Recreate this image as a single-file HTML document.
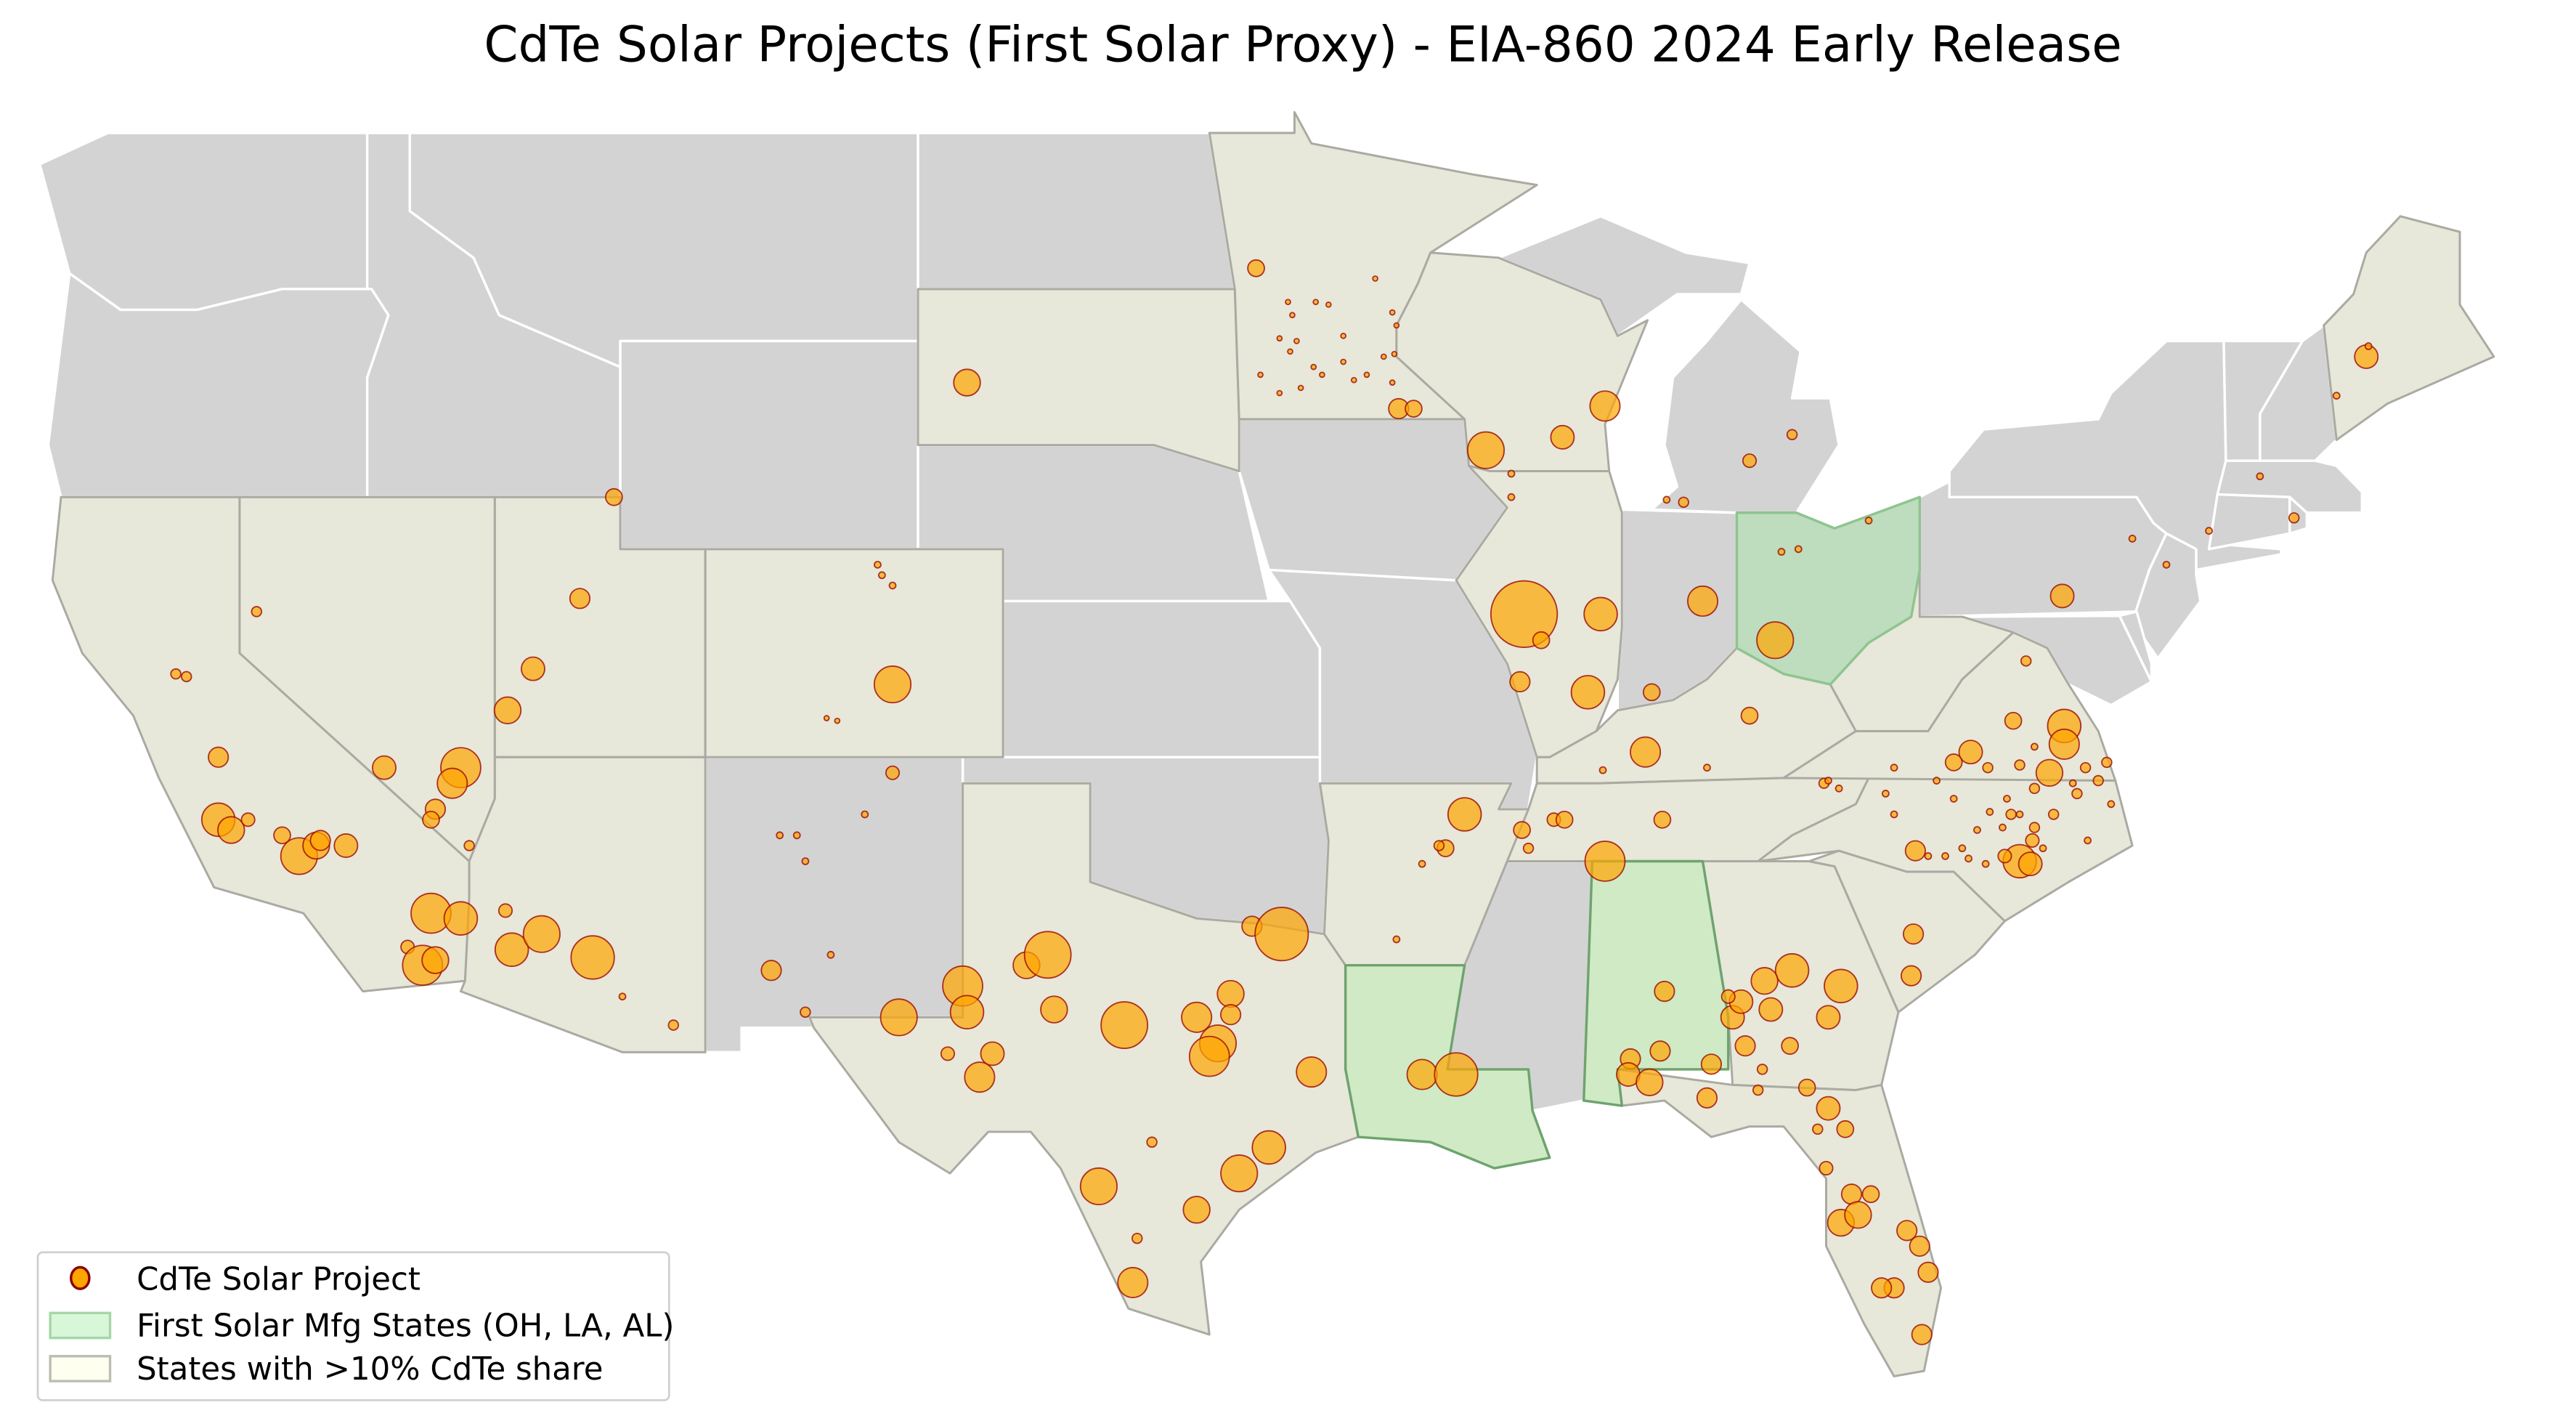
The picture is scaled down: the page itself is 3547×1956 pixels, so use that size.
<!DOCTYPE html>
<html><head><meta charset="utf-8">
<style>
html,body{margin:0;padding:0;background:#fff;}
svg{display:block;font-family:"DejaVu Sans","Liberation Sans",sans-serif;}
</style></head>
<body>
<svg id="chart" width="3547" height="1956" viewBox="0 0 1550 855" xmlns="http://www.w3.org/2000/svg">
<rect x="0" y="0" width="1550" height="855" fill="#ffffff"/>
<text x="784" y="37" text-anchor="middle" font-size="29.5" fill="#000">CdTe Solar Projects (First Solar Proxy) - EIA-860 2024 Early Release</text>
<g id="states"></g>
<g id="points"></g>
<g>
<rect x="22.5" y="753.5" width="380" height="89" rx="3" fill="#fff" stroke="#d0d0d0" stroke-width="1.2"/>
<g>
<ellipse cx="48" cy="769" rx="5.5" ry="6.5" fill="#ffa500" stroke="#8b0000" stroke-width="1.5"/>
<text x="82" y="776" font-size="19" fill="#000">CdTe Solar Project</text></g>
<g>
<rect x="30" y="790" width="36" height="15" fill="#d8f6d8" stroke="#a6d6a6" stroke-width="1.5"/>
<text x="82" y="804" font-size="19" fill="#000">First Solar Mfg States (OH, LA, AL)</text></g>
<g>
<rect x="30" y="816" width="36" height="15" fill="#fffff0" stroke="#bdbdb5" stroke-width="1.5"/>
<text x="82" y="830" font-size="19" fill="#000">States with &gt;10% CdTe share</text></g>
</g>
</svg>
<script>
// ---- data ----
const grayStates = ["WA","OR","ID","MT","WY","ND","NE","KS","OK","NM","IA","MO","MS","IN","MI","MIU","PA","NY","NJ","MD","DE","VT","NH","MA","CT","RI"];
const beigeStates = ["CA","NV","UT","AZ","CO","TX","SD","MN","WI","IL","KY","TN","GA","FL","SC","NC","VA","WV","AR","ME"];
const mfgStates = ["LA","AL","OH"];
const projLon = [-96.1,-102.9,-111.2,-112.0,-113.1,-113.7,-116.6,-114.8,-115.0,-115.4,-115.5,-120.5,-120.5,-120.2,-119.8,-119.0,-118.6,-118.2,-117.5,-118.1,-115.5,-114.8,-113.75,-113.6,-112.9,-111.7,-116.05,-115.7,-115.4,-114.6,-119.6,-121.5,-121.25,-104.65,-104.65,-107.5,-106.7,-109.8,-111.0,
-107.3,-106.9,-106.7,-106.1,-105.3,-105.0,-104.9,-104.65,-106.2,-105.95,
-104.5,-103.0,-102.9,-103.35,-102.6,-102.3,-101.5,-101.0,-100.85,-99.2,-97.5,-97.0,-97.2,-96.7,-96.7,-96.2,-95.5,-94.8,-95.8,-96.5,-99.8,-97.5,-99.0,-98.55,-98.9,
-91.2,-91.65,-92.2,-91.4,-91.8,-92.2,-92.8,
-95.35,-95.25,-94.7,-94.4,-95.55,-95.15,-95.3,-94.05,-93.5,-93.1,-92.85,-93.3,-92.9,-92.8,-94.55,-93.8,-94.05,-94.75,-96.0,-95.55,-95.05,-92.9,
-92.75,-92.4,-90.7,-88.9,-87.9,-90.1,-90.1,-89.8,-89.4,-88.0,-89.9,-88.3,-86.8,-84.5,-86.95,-85.6,-83.9,-84.5,-83.5,-86.05,-86.45,-83.75,-83.35,-81.7,
-89.85,-89.1,-88.85,-87.9,-86.55,-89.7,-87.95,-85.5,-82.75,
-86.5,-86.6,-87.3,-87.35,-86.85,-85.5,-85.4,-84.9,-84.7,-84.6,-84.2,-84.3,-84.0,-83.5,-84.15,-83.55,-83.15,-82.65,-82.35,-82.65,-82.25,-82.9,-82.7,-85.0,
-82.1,-81.65,-82.35,-81.95,-80.8,-80.5,-80.3,-81.1,-81.4,-80.45,
-80.65,-80.7,-80.6,
-79.3,-79.7,-78.3,-78.0,-77.15,-77.1,-77.1,-77.45,-78.15,-77.9,
-78.15,-78.9,-78.35,-77.8,-77.8,-77.35,-76.8,-76.6,-76.3,-76.1,-76.0,-79.5,-79.35,-79.15,-79.7,-80.1,-81.3,-81.1,-80.3,-79.9,-78.95,-78.55,-78.15,-77.8,-76.9,-76.55,-77.6,-82.65,-82.4,-81.1,-78.45,-78.85,-78.5,-77.85,
-70.0,-69.95,-70.7,-72.5,-71.7,-73.7,-74.7,-75.5];
const projLat = [46.4,44.2,42.0,40.05,38.7,37.9,36.8,36.8,36.5,36.0,35.8,37.0,35.8,35.6,35.8,35.5,35.1,35.3,35.3,35.4,34.0,33.9,34.05,33.3,33.6,33.15,33.35,33.0,33.1,35.3,39.8,38.6,38.55,38.4,36.7,32.9,32.1,31.85,32.4,
35.5,35.5,35.0,33.2,35.9,40.7,40.5,40.3,37.75,37.7,
32.0,32.6,32.1,31.3,30.85,31.3,33.0,33.2,32.15,31.85,32.0,31.5,31.25,32.45,32.05,33.75,33.6,30.95,29.5,29.0,28.75,28.3,26.9,29.6,27.75,
35.9,35.25,30.9,30.9,35.3,34.95,33.5,
45.75,45.5,45.75,45.7,45.05,45.0,44.8,45.1,44.35,44.7,44.75,46.2,45.55,45.3,44.35,44.25,44.6,44.5,44.35,44.0,44.1,44.2,
43.7,43.7,42.9,43.15,43.75,42.45,42.0,39.75,39.25,39.75,38.45,38.25,38.25,37.8,37.1,40.0,39.25,42.7,43.2,41.9,41.95,40.95,41.0,41.55,
35.6,35.8,35.8,35.0,35.8,35.25,36.75,36.8,36.5,
32.5,31.35,31.2,30.9,30.75,30.45,31.1,32.0,32.3,31.45,31.0,30.6,32.15,32.9,32.7,31.45,30.65,32.0,32.6,30.25,29.85,29.85,29.1,32.4,
28.6,28.6,28.05,28.2,27.9,27.6,27.1,26.8,26.8,25.9,
33.6,32.8,35.2,
37.1,36.9,37.7,38.85,40.1,37.6,37.25,36.7,35.0,34.95,
36.85,36.8,35.9,36.4,35.65,35.9,36.3,36.8,36.55,36.9,36.1,35.25,35.05,35.6,36.2,36.55,36.3,35.9,35.1,35.1,34.95,35.65,35.9,37.2,36.5,35.4,35.25,36.55,36.4,36.8,36.2,35.95,35.1,35.4,
44.7,44.9,43.95,42.4,41.6,41.35,40.7,41.2];
const projMW = [39,100,39,56,77,100,77,225,127,56,39,56,156,100,25,39,189,100,77,56,225,156,25,156,189,264,25,225,100,14,14,14,14,189,25,56,14,14,6,
6,6,6,6,6,6,6,6,3.5,3.5,
189,225,156,25,127,77,100,306,100,306,127,189,225,100,56,56,400,127,156,189,189,100,127,14,14,
156,39,127,264,14,6,6,
3.5,3.5,3.5,3.5,3.5,3.5,3.5,3.5,3.5,3.5,3.5,3.5,3.5,3.5,3.5,3.5,3.5,3.5,3.5,3.5,3.5,3.5,
56,39,189,77,127,6,6,625,39,156,56,156,39,39,127,127,189,25,14,14,6,6,6,6,
39,25,39,225,39,14,6,6,14,
56,56,56,77,100,56,56,77,77,56,14,14,77,156,100,39,39,77,156,77,39,14,25,25,
56,39,100,100,56,56,56,56,56,56,
56,56,56,
77,39,39,14,77,156,127,100,156,77,
14,14,14,14,14,14,14,14,14,14,6,6,6,6,6,6,6,6,6,6,6,6,6,6,6,6,6,6,6,6,6,6,25,25,
77,6,6,6,14,6,6,6];

const statePolys = {
WA:[[-124.7,48.4],[-123.1,49],[-117,49],[-117,46],[-116.9,46],[-119,46],[-121,45.6],[-122.8,45.6],[-124,46.3]],
OR:[[-124,46.3],[-122.8,45.6],[-121,45.6],[-119,46],[-116.9,46],[-116.5,45.5],[-117,44.3],[-117,42],[-124.2,42],[-124.5,43]],
CA:[[-124.2,42],[-120,42],[-120,39],[-114.6,35],[-114.6,34.3],[-114.7,32.7],[-117.1,32.5],[-118.5,34],[-120.6,34.5],[-121.9,36.6],[-122.5,37.8],[-123.7,39],[-124.4,40.4]],
NV:[[-120,42],[-114,42],[-114,36.2],[-114.6,35],[-120,39]],
ID:[[-117,49],[-116,49],[-116,47.5],[-114.5,46.6],[-113.9,45.5],[-111.05,44.5],[-111.05,42],[-117,42],[-117,44.3],[-116.5,45.5],[-116.9,46],[-117,46]],
MT:[[-116,49],[-104.05,49],[-104.05,45],[-111.05,45],[-111.05,44.5],[-113.9,45.5],[-114.5,46.6],[-116,47.5]],
WY:[[-111.05,45],[-104.05,45],[-104.05,41],[-111.05,41]],
UT:[[-114,42],[-111.05,42],[-111.05,41],[-109.05,41],[-109.05,37],[-114,37]],
CO:[[-109.05,41],[-102.05,41],[-102.05,37],[-109.05,37]],
AZ:[[-114,37],[-109.05,37],[-109.05,31.33],[-111,31.33],[-114.8,32.5],[-114.7,32.7],[-114.6,34.3],[-114.6,35],[-114,36.2]],
NM:[[-109.05,37],[-103,37],[-103,32],[-106.6,32],[-106.5,31.8],[-108.2,31.8],[-108.2,31.33],[-109.05,31.33]],
ND:[[-104.05,49],[-97.2,49],[-96.6,46],[-104.05,46]],
SD:[[-104.05,46],[-96.6,46],[-96.5,43.5],[-96.5,42.5],[-98.5,43],[-104.05,43]],
NE:[[-104.05,43],[-98.5,43],[-96.5,42.5],[-95.8,40],[-102.05,40],[-102.05,41],[-104.05,41]],
KS:[[-102.05,40],[-95.3,40],[-94.6,39.1],[-94.6,37],[-102.05,37]],
OK:[[-103,37],[-94.6,37],[-94.4,35.4],[-94.5,33.6],[-96,33.8],[-97.5,33.9],[-100,34.6],[-100,36.5],[-103,36.5]],
TX:[[-106.6,32],[-103,32],[-103,36.5],[-100,36.5],[-100,34.6],[-97.5,33.9],[-96,33.8],[-94.5,33.6],[-94.0,33.0],[-94.0,31.0],[-93.7,29.7],[-94.7,29.4],[-96.5,28.3],[-97.4,27.3],[-97.2,25.9],[-99.1,26.4],[-100.7,29.1],[-101.4,29.8],[-102.4,29.8],[-103.3,29],[-104.5,29.6],[-106.5,31.8]],
MN:[[-97.2,49],[-95.2,49],[-95.2,49.4],[-94.8,48.8],[-91,48.2],[-89.5,48],[-92,46.7],[-92.3,46.1],[-92.8,45.3],[-92.8,44.7],[-91.2,43.5],[-96.5,43.5],[-96.6,46]],
IA:[[-96.5,43.5],[-91.2,43.5],[-91.1,42.6],[-90.2,41.8],[-91.4,40.4],[-95.8,40.6],[-96.5,42.5]],
MO:[[-95.8,40.6],[-91.4,40.4],[-90.2,38.8],[-89.5,37],[-89.7,36],[-90.4,36],[-90.1,36.5],[-94.6,36.5],[-94.6,39.1],[-95.3,40]],
AR:[[-94.6,36.5],[-90.1,36.5],[-90.4,36],[-89.7,36],[-91.2,33],[-94.0,33.0],[-94.5,33.6],[-94.4,35.4]],
LA:[[-94.0,33.0],[-91.2,33],[-91.6,31],[-89.7,31],[-89.6,30.2],[-89.2,29.3],[-90.5,29.1],[-92,29.6],[-93.7,29.7],[-94.0,31.0]],
WI:[[-92,46.7],[-90.4,46.6],[-88,45.8],[-87.6,45.1],[-86.9,45.4],[-87.9,43.4],[-87.8,42.5],[-90.6,42.5],[-91.1,42.6],[-91.2,43.5],[-92.8,44.7],[-92.8,45.3],[-92.3,46.1]],
IL:[[-90.6,42.5],[-87.8,42.5],[-87.5,41.7],[-87.5,39.5],[-87.6,38.5],[-88.1,37.5],[-89.2,37],[-89.5,37],[-90.2,38.8],[-91.4,40.4],[-90.2,41.8],[-91.1,42.6]],
MI:[[-86.8,41.76],[-84.8,41.7],[-83.4,41.7],[-82.4,43],[-82.6,43.9],[-83.5,43.9],[-83.3,44.8],[-84.7,45.8],[-85.5,45],[-86.3,44.3],[-86.5,43],[-86.2,42.2]],
MIU:[[-90.4,46.6],[-88,45.8],[-87.6,45.1],[-86.2,45.9],[-84.7,45.9],[-84.5,46.5],[-86,46.7],[-88,47.4]],
IN:[[-87.5,41.76],[-84.8,41.7],[-84.8,39.1],[-85.5,38.5],[-86.3,38.1],[-87.6,37.9],[-87.6,38.5],[-87.5,39.5]],
OH:[[-84.8,41.7],[-83.4,41.7],[-82.5,41.4],[-80.5,42],[-80.5,40.6],[-80.7,39.7],[-81.7,39.2],[-82.6,38.4],[-83.7,38.6],[-84.8,39.1]],
KY:[[-89.5,37],[-89.2,37],[-88.1,37.5],[-87.6,37.9],[-86.3,38.1],[-85.5,38.5],[-84.8,39.1],[-83.7,38.6],[-82.6,38.4],[-82.0,37.5],[-83.7,36.6],[-88.07,36.5],[-89.5,36.5]],
TN:[[-90.3,35],[-88.2,35],[-84.3,35],[-83.5,35.5],[-82.0,36.1],[-81.7,36.6],[-83.7,36.6],[-88.07,36.5],[-89.5,36.5],[-89.7,36]],
MS:[[-90.3,35],[-88.2,35],[-88.4,30.4],[-89.6,30.2],[-89.7,31],[-91.6,31],[-91.2,33]],
AL:[[-88.2,35],[-85.6,35],[-85,32],[-85,31],[-87.6,31],[-87.5,30.3],[-88.4,30.4]],
GA:[[-85.6,35],[-83.1,35],[-82.5,34.9],[-81,32.1],[-81.4,30.7],[-82,30.6],[-84.9,30.7],[-85,32]],
FL:[[-87.6,31],[-84.9,30.7],[-82,30.6],[-81.4,30.7],[-80.6,28.5],[-80.0,26.8],[-80.4,25.2],[-81.1,25.1],[-81.8,26.1],[-82.7,27.6],[-82.7,28.9],[-83.7,29.9],[-84.5,29.9],[-85.4,29.7],[-86.5,30.4],[-87.5,30.3]],
SC:[[-83.1,35],[-82.5,34.9],[-81,32.1],[-79.2,33.2],[-78.5,33.85],[-79.7,34.8],[-80.8,34.8],[-82.4,35.2]],
NC:[[-84.3,35],[-82.4,35.2],[-80.8,34.8],[-79.7,34.8],[-78.5,33.85],[-77,34.6],[-75.5,35.3],[-75.9,36.55],[-81.7,36.6],[-82.0,36.1],[-83.5,35.5]],
VA:[[-83.7,36.6],[-75.9,36.55],[-76.3,37.5],[-77.0,38.4],[-77.5,39.1],[-78.3,39.4],[-79.5,38.5],[-80.3,37.5],[-82.0,37.5]],
WV:[[-82.6,38.4],[-81.7,39.2],[-80.7,39.7],[-80.5,40.6],[-80.5,39.7],[-79.5,39.7],[-78.3,39.4],[-79.5,38.5],[-80.3,37.5],[-82.0,37.5]],
MD:[[-79.5,39.7],[-75.8,39.72],[-75.05,38.45],[-76,38],[-77,38.4],[-77.5,39.1],[-78.3,39.4]],
DE:[[-75.8,39.72],[-75.4,39.8],[-75.05,38.8],[-75.05,38.45]],
PA:[[-80.5,42],[-79.8,42.3],[-79.8,42],[-75.4,42],[-75.0,41.5],[-74.7,41.3],[-75.1,40.6],[-75.4,39.8],[-80.5,39.7],[-80.5,40.6]],
NJ:[[-74.7,41.3],[-74,41],[-74,40.5],[-73.9,40.0],[-74.9,38.9],[-75.5,39.6],[-75.1,40.6]],
NY:[[-79.8,42],[-79.8,42.5],[-79,43.3],[-76.3,43.5],[-76,44],[-74.7,45],[-73.35,45],[-73.3,42.7],[-73.5,41.1],[-72,41.0],[-72,40.9],[-74,40.6],[-74,41],[-74.7,41.3],[-75.0,41.5],[-75.4,42]],
VT:[[-73.35,45],[-71.5,45],[-72.5,43.6],[-72.5,42.7],[-73.3,42.7]],
NH:[[-71.5,45],[-71.0,45.3],[-70.7,43.1],[-71.2,42.7],[-72.5,42.7],[-72.5,43.6]],
ME:[[-71.0,45.3],[-70.7,43.1],[-69.5,43.8],[-67,44.7],[-67.8,45.7],[-67.8,47.1],[-69.2,47.4],[-70,46.7],[-70.3,45.9]],
MA:[[-73.5,42.05],[-71.8,42.0],[-71.4,41.7],[-70.1,41.7],[-70.1,42.1],[-70.7,42.6],[-71.2,42.7],[-72.5,42.7],[-73.3,42.7]],
CT:[[-73.5,42.05],[-71.8,42.0],[-71.8,41.3],[-73.7,41.0]],
RI:[[-71.8,42],[-71.4,41.7],[-71.4,41.4],[-71.8,41.3]]
};
// ---- axis functions (lon/lat -> svg units) ----
function xScale(lon){ return 16 + (lon + 125) * 25.6; }
function yScale(lat){ return 80 + (49 - lat) * 31.3; }
function rScale(mw){ return Math.sqrt(mw) * 0.8; }
const NS = "http://www.w3.org/2000/svg";
const stG = document.getElementById('states');
function drawState(code, fill, stroke, sw){
  const p = document.createElementNS(NS,'polygon');
  p.setAttribute('points', statePolys[code].map(c => xScale(c[0]).toFixed(1)+','+yScale(c[1]).toFixed(1)).join(' '));
  p.setAttribute('fill', fill);
  p.setAttribute('stroke', stroke);
  p.setAttribute('stroke-width', sw);
  p.setAttribute('stroke-linejoin','round');
  
  
  stG.appendChild(p);
}
grayStates.forEach(s => drawState(s, '#d3d3d3', '#ffffff', 1.5));
beigeStates.forEach(s => drawState(s, '#e7e7da', '#aaaaa2', 1.3));
drawState('LA', '#cfeac5', '#6ea36e', 1.5);
drawState('AL', '#cfeac5', '#6ea36e', 1.5);
drawState('OH', '#bedcbe', '#8fc48f', 1.5);
const ptG = document.getElementById('points');
for (let i = 0; i < projLon.length; i++) {
  const c = document.createElementNS(NS,'circle');
  c.setAttribute('cx', xScale(projLon[i]).toFixed(1));
  c.setAttribute('cy', yScale(projLat[i]).toFixed(1));
  c.setAttribute('r', rScale(projMW[i]).toFixed(2));
  c.setAttribute('fill', '#ffa500');
  c.setAttribute('fill-opacity', '0.7');
  c.setAttribute('stroke', '#9b0a00');
  c.setAttribute('stroke-opacity', '0.8');
  c.setAttribute('stroke-width', '0.8');
  
  
  ptG.appendChild(c);
}
</script>
</body></html>
